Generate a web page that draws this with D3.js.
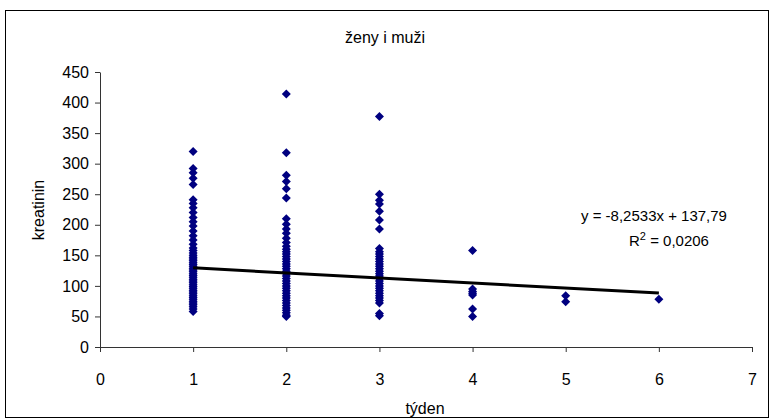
<!DOCTYPE html>
<html><head><meta charset="utf-8">
<script src="https://cdn.jsdelivr.net/npm/d3@7"></script>
<style>body{margin:0;background:#fff}svg{display:block;font-family:"Liberation Sans",Arial,sans-serif}</style>
</head><body><svg id="c" width="771" height="419"></svg>
<script>
const title = "ženy i muži";
const xLabel = "týden";
const yLabel = "kreatinin";
const xTicks = [0,1,2,3,4,5,6,7];
const yTicks = [0,50,100,150,200,250,300,350,400,450];
const week1 = [320,292,285,276,266,241,235,228,220,212,205,198,190,182,175,168,162,158,154,150,147,144,141,138,135,132,129,126,123,120,117,114,111,108,105,102,99,96,93,90,87,84,81,78,75,72,69,66,62,58];
const week2 = [414,318,281,271,259,244,210,201,193,186,178,171,165,160,156,152,148,144,140,136,132,128,124,120,116,112,108,104,100,96,92,88,84,80,76,72,68,64,60,56,52,50];
const week3 = [377,250,240,234,222,208,193,161,156,152,148,144,140,136,132,128,124,120,116,112,108,104,100,96,92,88,84,80,76,72,55,51];
const week4 = [158,95,91,88,85,62,50];
const week5 = [84,74];
const week6 = [78];
const weeks = [1,2,3,4,5,6];
const seriesByWeek = [week1,week2,week3,week4,week5,week6];
const slope = -8.2533, intercept = 137.79;
const eqText = "y = -8,2533x + 137,79";
const r2Value = " = 0,0206";

const svg = d3.select("#c");
svg.append("rect").attr("x",5.5).attr("y",10.5).attr("width",763).attr("height",407)
  .attr("fill","#fff").attr("stroke","#000").attr("stroke-width",1);

const x = d3.scaleLinear().domain([0,7]).range([100,752]);
const y = d3.scaleLinear().domain([0,450]).range([347,72]);

const xAxis = svg.append("g").attr("transform","translate(0,347)")
  .call(d3.axisBottom(x).tickValues(xTicks).tickSize(5).tickSizeOuter(0).tickPadding(22).tickFormat(d3.format("d")));
const yAxis = svg.append("g").attr("transform","translate(100,0)")
  .call(d3.axisLeft(y).tickValues(yTicks).tickSize(5).tickSizeOuter(0).tickPadding(6).tickFormat(d3.format("d")));
[xAxis,yAxis].forEach(a=>{
  a.select(".domain").attr("stroke","#333");
  a.selectAll(".tick line").attr("stroke","#333");
  a.selectAll(".tick text").attr("fill","#000").style("font-size","16px").style("font-family","'Liberation Sans',Arial,sans-serif");
});

const pts = [];
weeks.forEach((w,i)=>seriesByWeek[i].forEach(v=>pts.push({w,v})));
const h = 4.5;
svg.append("g").selectAll("path").data(pts).join("path")
  .attr("d",d=>{const cx=x(d.w), cy=y(d.v); return `M${cx},${cy-h}L${cx+h},${cy}L${cx},${cy+h}L${cx-h},${cy}Z`;})
  .attr("fill","#000080");

svg.append("line")
  .attr("x1",x(1)).attr("y1",y(intercept+slope*1))
  .attr("x2",x(6)).attr("y2",y(intercept+slope*6))
  .attr("stroke","#000").attr("stroke-width",3);

svg.append("text").attr("x",385).attr("y",43).attr("text-anchor","middle").style("font-size","16px").text(title);
svg.append("text").attr("x",425).attr("y",414).attr("text-anchor","middle").style("font-size","16px").text(xLabel);
svg.append("text").attr("transform","translate(44,210) rotate(-90)").attr("text-anchor","middle").style("font-size","16px").text(yLabel);

svg.append("text").attr("x",654).attr("y",221).attr("text-anchor","middle").style("font-size","15px").text(eqText);
const r2 = svg.append("text").attr("x",669).attr("y",246).attr("text-anchor","middle").style("font-size","15px");
r2.append("tspan").text("R");
r2.append("tspan").attr("dy",-6).style("font-size","11px").text("2");
r2.append("tspan").attr("dy",6).text(r2Value);
</script></body></html>
